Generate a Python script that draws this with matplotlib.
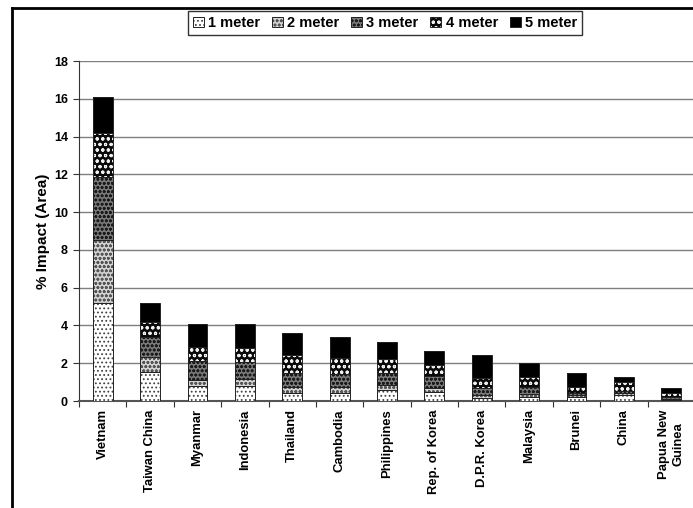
import matplotlib
matplotlib.use("Agg")
import matplotlib.pyplot as plt
from matplotlib.patches import Patch
from matplotlib.lines import Line2D
from matplotlib.legend_handler import HandlerTuple
import numpy as np

plt.rcParams['font.family'] = ['Liberation Sans', 'DejaVu Sans']
plt.rcParams['hatch.linewidth'] = 0.8

countries = ["Vietnam", "Taiwan China", "Myanmar", "Indonesia", "Thailand",
             "Cambodia", "Philippines", "Rep. of Korea", "D.P.R. Korea",
             "Malaysia", "Brunei", "China", "Papua New\nGuinea"]
levels = ["1 meter", "2 meter", "3 meter", "4 meter", "5 meter"]

# cumulative % of area impacted for each sea-level rise
cum_1m = [5.2, 1.55, 0.8, 0.8, 0.4, 0.4, 0.58, 0.5, 0.15, 0.2, 0.2, 0.3, 0.05]
cum_2m = [8.5, 2.35, 1.1, 1.15, 0.75, 0.75, 0.85, 0.68, 0.32, 0.35, 0.3, 0.4, 0.1]
cum_3m = [11.85, 3.4, 2.1, 2.05, 1.5, 1.45, 1.5, 1.35, 0.67, 0.75, 0.45, 0.55, 0.2]
cum_4m = [14.2, 4.2, 2.85, 2.8, 2.45, 2.3, 2.2, 1.9, 1.2, 1.25, 0.75, 1.0, 0.45]
cum_5m = [16.1, 5.2, 4.1, 4.1, 3.6, 3.4, 3.1, 2.65, 2.45, 2.0, 1.5, 1.25, 0.7]

y_ticks = [0, 2, 4, 6, 8, 10, 12, 14, 16, 18]

cum = np.array([cum_1m, cum_2m, cum_3m, cum_4m, cum_5m])
seg = np.diff(np.vstack([np.zeros(len(countries)), cum]), axis=0)

# (face colour, hatch, hatch colour) for each level
styles = [
    ("white", "....", "#444444"),
    ("#d4d4d4", "oooo", "#555555"),
    ("#7a7a7a", "oooo", "#1a1a1a"),
    ("#0a0a0a", "ooo", "#f0f0f0"),
    ("black", None, "black"),
]

W, H = 693, 508
fig = plt.figure(figsize=(W / 100, H / 100), dpi=100)
ax = fig.add_axes([79 / W, 1 - 401 / H, (695 - 79) / W, (401 - 61) / H])

x = np.arange(len(countries))
width = 0.42
bottom = np.zeros(len(countries))
handles = []
for i, (lvl, (fc, hatch, hc)) in enumerate(zip(levels, styles)):
    ax.bar(x, seg[i], width, bottom=bottom, color=fc, hatch=hatch,
           edgecolor=hc, linewidth=0, zorder=3)
    ax.bar(x, seg[i], width, bottom=bottom, fill=False,
           edgecolor="#222222", linewidth=0.7, zorder=4)
    bottom += seg[i]
    handles.append((Patch(facecolor=fc, hatch=hatch, edgecolor=hc, linewidth=0),
                    Patch(fill=False, edgecolor="#222222", linewidth=0.7)))

ax.set_xlim(-0.5, len(countries) - 0.5)
ax.set_ylim(0, 18)
ax.set_yticks(y_ticks)
ax.set_yticklabels([str(t) for t in y_ticks], fontsize=9, fontweight="bold")
ax.yaxis.grid(True, color="#7f7f7f", linewidth=1.0, zorder=0)
ax.set_axisbelow(True)

ax.set_xticks(x)
ax.set_xticklabels(countries, rotation=90, fontsize=9.4, fontweight="bold",
                   va="top", ha="center", multialignment="center")
ax.tick_params(axis="x", length=0, pad=6)
ax.set_xticks(np.arange(-0.5, len(countries)), minor=True)
ax.tick_params(axis="x", which="minor", length=4, width=0.8, color="#333333")
ax.tick_params(axis="y", length=4, width=0.8, color="#333333", pad=4)

for s in ["top", "right"]:
    ax.spines[s].set_visible(False)
ax.spines["left"].set_color("#333333")
ax.spines["bottom"].set_color("#555555")
ax.spines["bottom"].set_linewidth(1.5)

ax.set_ylabel("% Impact (Area)", fontsize=11, fontweight="bold", labelpad=3)

leg = fig.legend(handles, levels, loc="center", bbox_to_anchor=(385 / W, 1 - 23 / H),
                 ncol=5, handler_map={tuple: HandlerTuple(ndivide=1)},
                 prop={"weight": "bold", "size": 10.5}, frameon=True, fancybox=False,
                 edgecolor="black", handlelength=0.75, handleheight=0.75,
                 handletextpad=0.3, columnspacing=0.8, borderpad=0.35,
                 borderaxespad=0)
leg.get_frame().set_linewidth(1.0)

# outer frame of the chart area
fig.add_artist(Line2D([12 / W, 1.0], [1 - 8 / H, 1 - 8 / H], color="black", linewidth=2,
                      transform=fig.transFigure))
fig.add_artist(Line2D([12 / W, 12 / W], [0.0, 1 - 8 / H], color="black", linewidth=2,
                      transform=fig.transFigure))

fig.savefig("out.png", dpi=100)
